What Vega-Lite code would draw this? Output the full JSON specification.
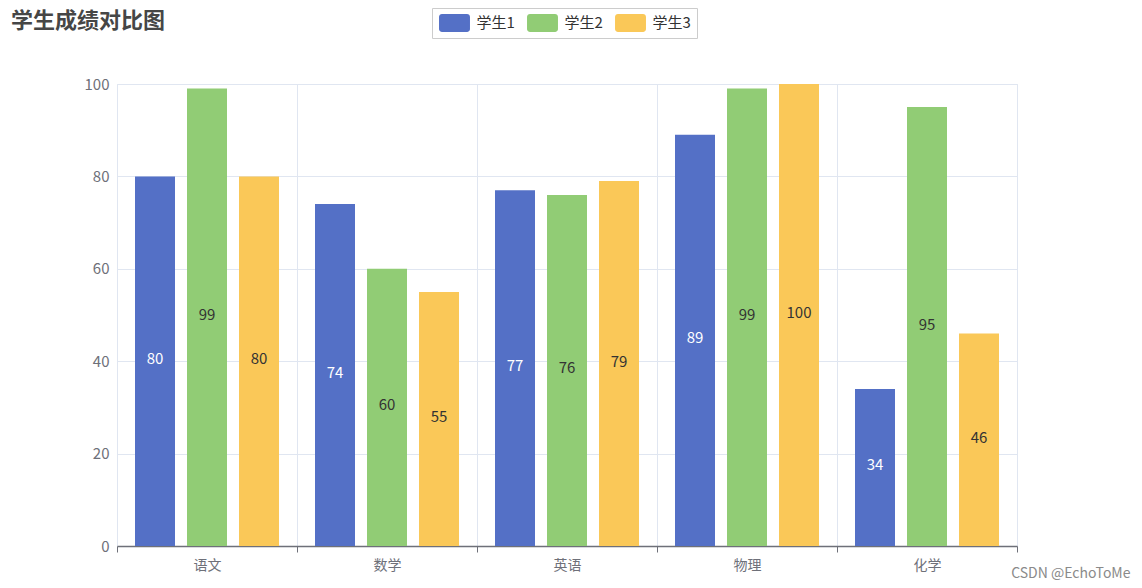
{
  "$schema": "https://vega.github.io/schema/vega-lite/v6.json",
  "autosize": "none",
  "width": 900,
  "height": 462,
  "padding": {"left": 117, "top": 84, "right": 125, "bottom": 42},
  "background": "white",
  "title": {
    "text": "学生成绩对比图",
    "anchor": "start",
    "frame": "group",
    "dx": -106,
    "offset": -19,
    "dy": 28,
    "baseline": "bottom",
    "font": "Noto Sans CJK SC",
    "fontSize": 22,
    "fontWeight": "bold",
    "color": "#464646"
  },
  "data": {
    "values": [
      {"subject": "语文", "student": "学生1", "score": 80},
      {"subject": "语文", "student": "学生2", "score": 99},
      {"subject": "语文", "student": "学生3", "score": 80},
      {"subject": "数学", "student": "学生1", "score": 74},
      {"subject": "数学", "student": "学生2", "score": 60},
      {"subject": "数学", "student": "学生3", "score": 55},
      {"subject": "英语", "student": "学生1", "score": 77},
      {"subject": "英语", "student": "学生2", "score": 76},
      {"subject": "英语", "student": "学生3", "score": 79},
      {"subject": "物理", "student": "学生1", "score": 89},
      {"subject": "物理", "student": "学生2", "score": 99},
      {"subject": "物理", "student": "学生3", "score": 100},
      {"subject": "化学", "student": "学生1", "score": 34},
      {"subject": "化学", "student": "学生2", "score": 95},
      {"subject": "化学", "student": "学生3", "score": 46}
    ]
  },
  "encoding": {
    "x": {
      "field": "subject",
      "type": "nominal",
      "sort": ["语文", "数学", "英语", "物理", "化学"],
      "scale": {"paddingInner": 0, "paddingOuter": 0},
      "axis": {
        "title": "CSDN @EchoToMe",
        "titleAnchor": "end",
        "titleAlign": "right",
        "titleX": 1013,
        "titleY": 27,
        "titleBaseline": "middle",
        "titleFont": "Noto Sans CJK SC",
        "titleFontSize": 14,
        "titleFontWeight": "normal",
        "titleColor": "#8a8a8a",
        "labelAngle": 0,
        "labelFont": "Noto Sans CJK SC",
        "labelFontSize": 14,
        "labelColor": "#6e7079",
        "labelPadding": 6,
        "tickBand": "extent",
        "tickSize": 6,
        "tickColor": "#6e7079",
        "domainColor": "#6e7079",
        "domainWidth": 1.5,
        "grid": true,
        "gridColor": "#e0e6f1"
      }
    },
    "xOffset": {
      "field": "student",
      "type": "nominal",
      "scale": {"paddingInner": 0.2308, "paddingOuter": 0.3462}
    }
  },
  "layer": [
    {
      "mark": {"type": "bar"},
      "encoding": {
        "y": {
          "field": "score",
          "type": "quantitative",
          "scale": {"domain": [0, 100]},
          "axis": {
            "title": null,
            "values": [0, 20, 40, 60, 80, 100],
            "domain": false,
            "ticks": false,
            "labelFont": "Noto Sans CJK SC",
            "labelFontSize": 15,
            "labelColor": "#6e7079",
            "labelPadding": 8,
            "gridColor": "#e0e6f1"
          }
        },
        "color": {
          "field": "student",
          "type": "nominal",
          "scale": {"domain": ["学生1", "学生2", "学生3"], "range": ["#5470c6", "#91cc75", "#fac858"]},
          "legend": {
            "title": null,
            "orient": "none",
            "direction": "horizontal",
            "legendX": 315,
            "legendY": -76,
            "strokeColor": "#cccccc",
            "padding": 6,
            "symbolType": "M-1.39,-1 L1.39,-1 A0.33,0.33 0 0 1 1.72,-0.67 L1.72,0.67 A0.33,0.33 0 0 1 1.39,1 L-1.39,1 A0.33,0.33 0 0 1 -1.72,0.67 L-1.72,-0.67 A0.33,0.33 0 0 1 -1.39,-1 Z",
            "symbolSize": 324,
            "symbolOffset": 7.5,
            "symbolOpacity": 1,
            "symbolStrokeWidth": 0,
            "labelFont": "Noto Sans CJK SC",
            "labelFontSize": 15,
            "labelColor": "#333333",
            "labelOffset": 13,
            "columnPadding": 11
          }
        }
      }
    },
    {
      "mark": {"type": "text", "font": "Noto Sans CJK SC", "fontSize": 15, "baseline": "middle", "dy": -2},
      "encoding": {
        "y": {"field": "score", "type": "quantitative", "scale": {"domain": [0, 200]}, "axis": null},
        "text": {"field": "score", "type": "quantitative"},
        "color": {
          "condition": {"test": "datum.student === '学生1'", "value": "#ffffff"},
          "value": "#333333"
        }
      }
    }
  ],
  "resolve": {"scale": {"y": "independent"}},
  "config": {
    "view": {"stroke": "#e0e6f1"}
  }
}
